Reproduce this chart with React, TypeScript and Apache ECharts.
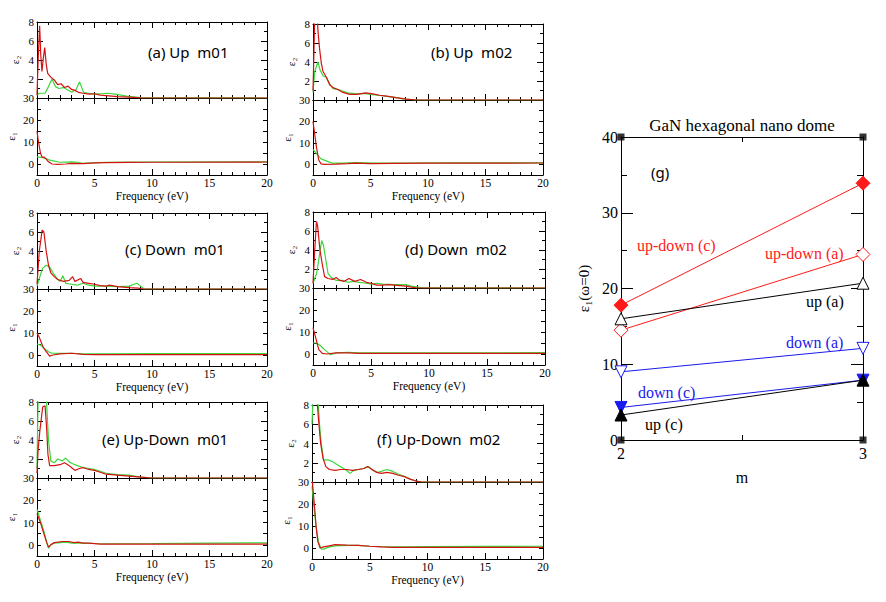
import React, { useEffect, useRef } from 'react';
import * as echarts from 'echarts';

// ---------- Data: small panels, [frequency (eV), value] ----------
const aE2Red = [[0,0.3],[0.1,4],[0.23,7.6],[0.33,4.5],[0.43,2.8],[0.55,4.2],[0.67,5.3],[0.8,3.6],[0.93,2.6],[1.2,2.2],[1.5,1.9],[1.8,1.4],[2.1,1.5],[2.4,1.1],[2.7,1.25],[3.0,0.9],[3.3,0.8],[3.6,0.6],[4,0.5],[4.5,0.4],[5,0.45],[5.5,0.3],[6,0.25],[7,0.15],[8,0.1],[9,0.02],[20,0]];
const aE2Green = [[0,0.3],[0.2,0.5],[0.7,0.5],[1.0,1.2],[1.3,2.0],[1.6,1.2],[1.9,1.0],[2.3,1.1],[2.6,0.9],[3.0,0.6],[3.4,0.9],[3.7,1.7],[4.05,0.6],[4.5,0.5],[4.9,0.4],[5.5,0.45],[6.1,0.5],[6.8,0.4],[7.8,0.2],[9,0.05],[20,0]];
const aE1Red = [[0,15],[0.1,11],[0.3,5],[0.45,3],[0.6,3.2],[0.8,2.2],[1.0,1],[1.3,0],[1.8,-0.2],[2.5,0],[3,0.3],[4,0.2],[5,0.5],[6,0.6],[8,0.7],[10,0.8],[20,0.9]];
const aE1Green = [[0,3.2],[0.4,3],[0.7,2.6],[1.0,2.0],[1.3,1.5],[2,0.8],[3,1.0],[3.5,0.8],[4,0.3],[5,0.5],[6,0.8],[10,0.9],[20,1.0]];

const bE2Red = [[0,1],[0.08,5],[0.15,9],[0.35,9],[0.45,7],[0.58,5.3],[0.72,3.9],[0.87,3.0],[1.16,2.4],[1.45,1.6],[1.74,1.3],[2.17,1.1],[2.6,0.8],[3.2,0.6],[3.8,0.6],[4.35,0.7],[4.6,0.75],[5.2,0.65],[5.8,0.5],[6.4,0.4],[7.2,0.25],[8.1,0.1],[9,0],[20,0]];
const bE2Green = [[0,0.8],[0.15,3.0],[0.43,4.0],[0.6,3.2],[0.9,2.5],[1.16,2.4],[1.45,1.7],[1.74,1.2],[2.2,1.1],[3,0.75],[3.8,0.65],[4.4,0.7],[5,0.6],[6,0.45],[7,0.3],[8,0.1],[9,0],[20,0]];
const bE1Red = [[0,20],[0.15,14],[0.3,8],[0.5,2],[0.7,0.2],[1.0,0],[2,0.1],[3,0.3],[3.7,0.5],[5,0.3],[7,0.4],[10,0.5],[20,0.6]];
const bE1Green = [[0,7],[0.3,5],[0.7,2.5],[1.2,1.5],[1.7,0.5],[2.5,0.5],[3.7,0.8],[5.5,0.5],[8,0.6],[12,0.7],[20,0.7]];

const cE2Red = [[0,0.5],[0.2,4],[0.45,6.2],[0.6,6.0],[0.8,4],[1.0,2.5],[1.2,1.7],[1.5,1.3],[1.8,1.0],[2.3,0.8],[2.8,0.9],[3.1,1.3],[3.3,0.8],[3.8,1.1],[4,0.7],[4.5,0.6],[5,0.5],[5.5,0.35],[6,0.3],[6.3,0.4],[7,0.25],[8,0.15],[8.8,0.1],[9.2,0],[20,0]];
const cE2Green = [[0,0.3],[0.3,1.5],[0.5,2.2],[0.8,2.5],[1.1,2.3],[1.4,1.7],[1.8,1.0],[2.0,0.8],[2.25,1.4],[2.5,0.6],[3,0.5],[3.5,0.4],[4,0.6],[4.5,0.4],[5,0.3],[6,0.3],[7,0.25],[8,0.3],[8.7,0.6],[9,0.3],[9.3,0],[20,0]];
const cE1Red = [[0,10],[0.2,8],[0.5,4],[0.8,1.5],[1.1,-0.5],[1.4,0],[2,0.5],[3,0.8],[4,0.3],[5,0.2],[10,0.2],[20,0.2]];
const cE1Green = [[0,5],[0.3,4.5],[0.6,3],[1.0,1.5],[1.3,0.8],[2,0.7],[3,0.8],[4,0.5],[6,0.5],[10,0.6],[20,0.6]];

const dE2Red = [[0,0.5],[0.15,4],[0.3,7.0],[0.4,6.5],[0.6,4],[0.8,2.5],[1.0,1.2],[1.3,1.0],[1.7,0.9],[2.0,1.1],[2.3,0.8],[2.7,0.7],[3.1,1.0],[3.6,0.7],[4.1,0.9],[4.6,0.6],[5,0.5],[5.5,0.3],[6,0.3],[6.5,0.35],[7,0.3],[7.5,0.25],[8,0.2],[8.5,0.1],[9,0],[20,0]];
const dE2Green = [[0,0.5],[0.3,1.5],[0.5,3],[0.75,5.0],[0.9,4.5],[1.1,3],[1.3,1.5],[1.6,1.1],[2,0.8],[2.5,0.8],[3,0.6],[3.5,0.7],[4,0.6],[4.6,0.5],[5,0.4],[5.5,0.5],[6,0.4],[7,0.35],[8,0.35],[8.5,0.2],[9.3,0.05],[20,0]];
const dE1Red = [[0,12],[0.2,8],[0.5,2],[0.8,0.3],[1.2,0],[2,0.5],[3,0.5],[4,0.3],[10,0.3],[20,0.3]];
const dE1Green = [[0,5],[0.3,5],[0.6,4],[1.0,2],[1.5,-0.3],[2,0.5],[3,0.8],[4,0.5],[6,0.5],[20,0.6]];

const eE2Red = [[0,0.5],[0.1,3],[0.25,5],[0.5,7.5],[0.7,7.6],[0.85,5],[0.95,2.5],[1.1,1.3],[1.5,1.3],[2.0,1.4],[2.4,1.6],[2.8,1.3],[3.1,1.0],[3.3,0.8],[3.7,1.0],[4.0,1.1],[4.5,0.9],[5,0.8],[5.5,0.6],[6,0.4],[7,0.3],[8,0.2],[9,0.1],[10,0],[20,0]];
const eE2Green = [[0,1],[0.1,9],[0.8,9],[0.85,7.5],[1.0,4],[1.2,1.8],[1.5,1.6],[1.8,2.0],[2.2,1.8],[2.5,2.1],[2.8,1.7],[3.1,1.5],[3.5,1.3],[4,1.1],[4.5,1.0],[5,0.9],[5.5,0.7],[6,0.5],[7,0.35],[8,0.3],[9,0.1],[10,0],[20,0]];
const eE1Red = [[0,14],[0.3,10],[0.6,5],[0.85,1],[1.0,-1],[1.2,0],[1.5,1],[2.2,1.5],[2.8,1.5],[3.2,1.0],[3.6,1.2],[4,0.8],[4.5,0.8],[5.5,0.3],[7,0.3],[20,0.3]];
const eE1Green = [[0,16],[0.3,11],[0.6,6],[0.85,1],[1.0,-1.5],[1.2,0],[1.5,0.8],[2,1.0],[2.5,1.2],[3,0.8],[4,0.8],[5,0.6],[6,0.5],[10,0.6],[15,0.8],[20,0.9]];

const fE2Red = [[0,9],[0.4,9],[0.6,6],[0.75,4],[0.95,2.5],[1.2,1.6],[1.5,1.3],[2,1.2],[2.5,1.3],[3,1.3],[3.5,1.2],[4,1.3],[4.5,1.4],[4.8,1.6],[5.2,1.3],[5.6,1.0],[6,0.9],[6.5,1.0],[7,0.9],[7.5,0.7],[8,0.55],[8.5,0.3],[9,0.1],[9.5,0],[20,0]];
const fE2Green = [[0,6],[0.1,9],[0.5,9],[0.65,6],[0.8,4],[1.0,2.3],[1.4,2.3],[1.8,2.1],[2.2,1.8],[2.6,1.5],[3,1.2],[3.3,0.9],[3.6,1.2],[4,1.3],[4.5,1.4],[4.9,1.6],[5.3,1.2],[5.7,1.0],[6,1.1],[6.5,1.3],[7,1.1],[7.5,0.8],[8,0.6],[8.5,0.3],[9,0.1],[9.5,0],[20,0]];
const fE1Red = [[0,32],[0.2,20],[0.35,10],[0.5,3],[0.7,0],[1,0.5],[1.5,1],[2,1.5],[3,1.3],[4,1.2],[5,0.8],[6,0.5],[7,0.3],[20,0.3]];
const fE1Green = [[0,28],[0.15,20],[0.35,10],[0.55,3],[0.8,-0.5],[1.0,-0.5],[1.5,0.5],[2,1.0],[3,1.2],[4,1.2],[5,0.8],[6,0.6],[8,0.5],[10,0.6],[15,0.7],[20,0.8]];

const panelTitles = ['(a) Up  m01', '(b) Up  m02', '(c) Down  m01', '(d) Down  m02', '(e) Up-Down  m01', '(f) Up-Down  m02'];
const panelData = [
  [aE2Red, aE2Green, aE1Red, aE1Green],
  [bE2Red, bE2Green, bE1Red, bE1Green],
  [cE2Red, cE2Green, cE1Red, cE1Green],
  [dE2Red, dE2Green, dE1Red, dE1Green],
  [eE2Red, eE2Green, eE1Red, eE1Green],
  [fE2Red, fE2Green, fE1Red, fE1Green],
];

// ---------- Data: panel (g) ----------
const mValues = [2, 3];
const upDownC = [17.8, 33.9];
const upDownA = [14.5, 24.5];
const upA = [16.0, 20.7];
const downA = [9.0, 12.1];
const downC = [4.3, 7.9];
const upC = [3.3, 7.9];
const gSeriesNames = ['up-down (c)', 'up-down (a)', 'up (a)', 'down (a)', 'down (c)', 'up (c)'];

// ---------- Layout ----------
const layouts = [
  { left: 37, width: 230, top: 22, mid: 98, bottom: 175, tx: 148, ty: 52 },
  { left: 313, width: 230, top: 24, mid: 100, bottom: 175, tx: 431, ty: 52 },
  { left: 37, width: 230, top: 213, mid: 289, bottom: 366, tx: 125, ty: 249 },
  { left: 313, width: 232, top: 212, mid: 288, bottom: 365, tx: 405, ty: 249 },
  { left: 37, width: 230, top: 402, mid: 478, bottom: 556, tx: 102, ty: 439 },
  { left: 312, width: 231, top: 405, mid: 482, bottom: 559, tx: 377, ty: 439 },
];

const SERIF = '"Liberation Serif", "DejaVu Serif", serif';
const SANS = '"Noto Sans", "Open Sans", sans-serif';
const RED = '#d41212';
const GREEN = '#3ad83a';

function buildOption() {
  const grids: any[] = [];
  const xAxes: any[] = [];
  const yAxes: any[] = [];
  const series: any[] = [];
  const graphics: any[] = [];

  const line = { show: true, onZero: false, lineStyle: { color: '#000', width: 1 } };

  const xAxis = (gridIndex: number, position: string, labels: boolean) => ({
    type: 'value', gridIndex, position, min: 0, max: 20, interval: 5,
    axisLine: line,
    axisTick: { show: true, inside: true, length: 6, lineStyle: { color: '#000' } },
    minorTick: { show: true, splitNumber: 5, length: 3, lineStyle: { color: '#000' } },
    splitLine: { show: false }, minorSplitLine: { show: false },
    axisLabel: { show: labels, fontFamily: SERIF, fontSize: 11.5, color: '#000', margin: 2 },
    name: labels ? 'Frequency (eV)' : '', nameLocation: 'middle', nameGap: 15,
    nameTextStyle: { fontFamily: SERIF, fontSize: 11.5, color: '#000' },
  });

  const yAxis = (gridIndex: number, position: string, labels: boolean, isE2: boolean) => ({
    type: 'value', gridIndex, position,
    min: isE2 ? 0 : -5, max: isE2 ? 8 : 30, interval: isE2 ? 2 : 5,
    axisLine: line,
    axisTick: { show: true, inside: true, length: isE2 ? 6 : 4, lineStyle: { color: '#000' } },
    minorTick: { show: isE2, splitNumber: 2, length: 3, lineStyle: { color: '#000' } },
    splitLine: { show: false }, minorSplitLine: { show: false },
    axisLabel: {
      show: labels, fontFamily: SERIF, fontSize: 11, color: '#000', margin: 3,
      formatter: (v: number) => (isE2 ? (v === 0 ? '' : String(v)) : (v % 10 === 0 ? String(v) : '')),
    },
    name: labels ? (isE2 ? 'ε₂' : 'ε₁') : '', nameLocation: 'middle', nameRotate: 90,
    nameGap: isE2 ? 17 : 21,
    nameTextStyle: { fontFamily: SERIF, fontSize: 11, color: '#000' },
  });

  layouts.forEach((L, i) => {
    const [e2r, e2g, e1r, e1g] = panelData[i];
    const g0 = grids.length;
    grids.push({ left: L.left, top: L.top, width: L.width, height: L.mid - L.top });
    grids.push({ left: L.left, top: L.mid, width: L.width, height: L.bottom - L.mid });
    const x0 = xAxes.length;
    xAxes.push(xAxis(g0, 'bottom', false), xAxis(g0, 'top', false));
    xAxes.push(xAxis(g0 + 1, 'bottom', true), xAxis(g0 + 1, 'top', false));
    const y0 = yAxes.length;
    yAxes.push(yAxis(g0, 'left', true, true), yAxis(g0, 'right', false, true));
    yAxes.push(yAxis(g0 + 1, 'left', true, false), yAxis(g0 + 1, 'right', false, false));
    const mk = (data: number[][], color: string, xi: number, yi: number) => ({
      type: 'line', xAxisIndex: xi, yAxisIndex: yi, data, symbol: 'none', showSymbol: false,
      lineStyle: { color, width: 1.2 }, clip: true, silent: true, z: 2,
    });
    series.push(mk(e2g, GREEN, x0, y0), mk(e2r, RED, x0, y0));
    series.push(mk(e1g, GREEN, x0 + 2, y0 + 2), mk(e1r, RED, x0 + 2, y0 + 2));
    graphics.push({
      type: 'text', x: L.tx, y: L.ty,
      style: { text: panelTitles[i], font: `15px ${SANS}`, fill: '#000', textAlign: 'left', textVerticalAlign: 'middle', align: 'left', verticalAlign: 'middle' },
    });
  });

  // ---- panel (g)
  const gi = grids.length;
  grids.push({ left: 621, top: 137, width: 242, height: 303 });
  const gx = xAxes.length;
  const gxAxis = (position: string, labels: boolean) => ({
    type: 'value', gridIndex: gi, position, min: 2, max: 3, interval: 1,
    axisLine: line,
    axisTick: { show: true, inside: true, length: 10, lineStyle: { color: '#000' } },
    minorTick: { show: true, splitNumber: 2, length: 5, lineStyle: { color: '#000' } },
    splitLine: { show: false }, minorSplitLine: { show: false },
    axisLabel: { show: labels, fontFamily: SERIF, fontSize: 16, color: '#000', margin: 5 },
    name: labels ? 'm' : '', nameLocation: 'middle', nameGap: 29,
    nameTextStyle: { fontFamily: SERIF, fontSize: 16, color: '#000' },
  });
  xAxes.push(gxAxis('bottom', true), gxAxis('top', false));
  const gy = yAxes.length;
  const gyAxis = (position: string, labels: boolean) => ({
    type: 'value', gridIndex: gi, position, min: 0, max: 40, interval: 10,
    axisLine: line,
    axisTick: { show: true, inside: true, length: 12, lineStyle: { color: '#000' } },
    minorTick: { show: true, splitNumber: 2, length: 6, lineStyle: { color: '#000' } },
    splitLine: { show: false }, minorSplitLine: { show: false },
    axisLabel: { show: labels, fontFamily: SERIF, fontSize: 16, color: '#000', margin: 3 },
    name: labels ? 'ε₁(ω=0)' : '', nameLocation: 'middle', nameRotate: 90, nameGap: 30,
    nameTextStyle: { fontFamily: SERIF, fontSize: 15, color: '#000' },
  });
  yAxes.push(gyAxis('left', true), gyAxis('right', false));

  const pairs = (vals: number[]) => mValues.map((m, k) => [m, vals[k]]);
  const gLine = (name: string, vals: number[], color: string, symbol: string, filled: boolean, rotate = 0, size = 12) => ({
    type: 'line', name, xAxisIndex: gx, yAxisIndex: gy, data: pairs(vals),
    symbol, symbolSize: size, symbolRotate: rotate, showSymbol: true, clip: false, silent: true,
    lineStyle: { color, width: 1 },
    itemStyle: { color: filled ? color : '#fff', borderColor: color, borderWidth: 1 },
    z: 3,
  });
  series.push(
    gLine(gSeriesNames[0], upDownC, '#ff1a1a', 'diamond', true, 0, 14),
    gLine(gSeriesNames[1], upDownA, '#ff1a1a', 'diamond', false, 0, 14),
    gLine(gSeriesNames[2], upA, '#000', 'triangle', false),
    gLine(gSeriesNames[3], downA, '#1a1aee', 'triangle', false, 180),
    gLine(gSeriesNames[4], downC, '#1a1aee', 'triangle', true, 180),
    gLine(gSeriesNames[5], upC, '#000', 'triangle', true),
  );
  series.push({
    type: 'scatter', xAxisIndex: gx, yAxisIndex: gy, clip: false, silent: true,
    data: [[2, 0], [3, 0], [2, 40], [3, 40]], symbol: 'rect', symbolSize: 7,
    itemStyle: { color: '#000' }, z: 4,
  });

  const txt = (text: string, x: number, y: number, color: string, font: string, alignC = false) => ({
    type: 'text', x, y,
    style: {
      text, font, fill: color,
      textAlign: alignC ? 'center' : 'left', align: alignC ? 'center' : 'left',
      textVerticalAlign: 'middle', verticalAlign: 'middle',
    },
  });
  const gFont = `16px ${SERIF}`;
  graphics.push(
    txt('GaN hexagonal nano dome', 742, 125, '#000', `17px ${SERIF}`, true),
    txt('(g)', 651, 172, '#000', `15px ${SANS}`),
    txt(gSeriesNames[0], 637, 245, '#ff1a1a', gFont),
    txt(gSeriesNames[1], 765, 253, '#ff1a1a', gFont),
    txt(gSeriesNames[2], 806, 301, '#000', gFont),
    txt(gSeriesNames[3], 786, 342, '#1a1aee', gFont),
    txt(gSeriesNames[4], 638, 392, '#1a1aee', gFont),
    txt(gSeriesNames[5], 645, 424, '#000', gFont),
  );

  return {
    animation: false,
    backgroundColor: '#fff',
    grid: grids,
    xAxis: xAxes,
    yAxis: yAxes,
    series,
    graphic: graphics,
  };
}

export default function App() {
  const ref = useRef<HTMLDivElement>(null);
  useEffect(() => {
    if (!ref.current) return;
    const chart = echarts.init(ref.current, undefined, { renderer: 'svg' });
    chart.setOption(buildOption() as any);
    return () => chart.dispose();
  }, []);
  return <div ref={ref} style={{ position: 'fixed', left: 0, top: 0, width: 886, height: 602 }} />;
}
